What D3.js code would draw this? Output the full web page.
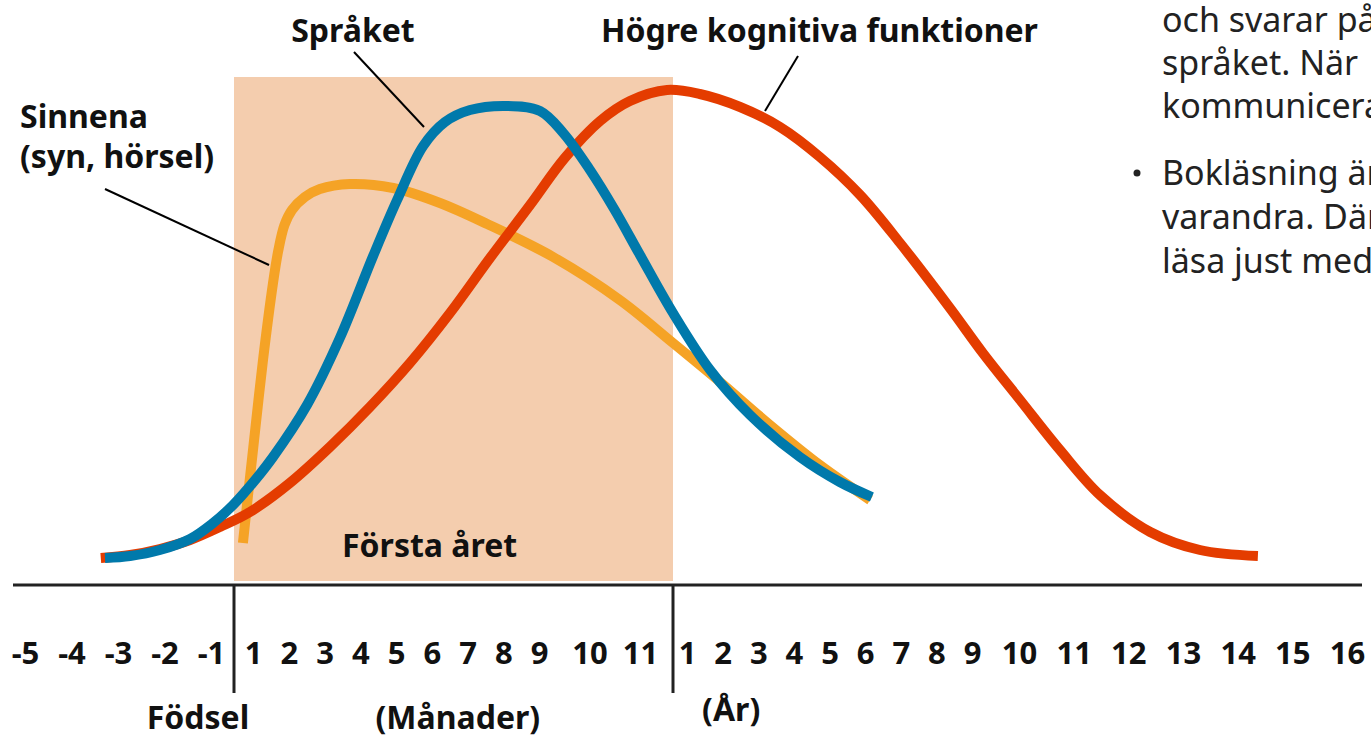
<!DOCTYPE html>
<html>
<head>
<meta charset="utf-8">
<script src="https://cdn.jsdelivr.net/npm/d3@7"></script>
<style>
  html, body { margin: 0; padding: 0; background: #fff; overflow: hidden; }
  svg { display: block; font-family: "Noto Sans", "Open Sans", sans-serif; }
</style>
</head>
<body>
<svg id="chart" width="1371" height="736"></svg>
<script>
// ---------- DATA ----------
// Timeline position t: prenatal months -5..-1, birth = 0, months 1..11, one year = 12, then years 1..16 at t = 12 + year
const prenatalTicks = [-5, -4, -3, -2, -1];
const monthTicks = [1, 2, 3, 4, 5, 6, 7, 8, 9, 10, 11];
const yearTicks = [1, 2, 3, 4, 5, 6, 7, 8, 9, 10, 11, 12, 13, 14, 15, 16];
const yearOffset = 12;
const birthT = 0;
const firstYearEndT = 12;

// Curve values (t, development level 0–100)
const sinnenaT = [0.47, 0.74, 1.0, 1.28, 1.56, 1.71, 1.88, 2.09, 2.45, 2.87, 3.71, 4.92, 6.23, 7.55, 9.28, 10.60, 12.0, 13.93, 15.33, 16.73, 18.14];
const sinnenaV = [8.4, 18, 27, 45, 60.4, 67, 72, 75, 77.6, 79.2, 80.2, 79.4, 76.4, 72.2, 65.6, 57, 48.4, 40.6, 32, 24, 17];

const sprakT = [-3.28, -2.74, -2.10, -1.45, -0.96, -0.04, 1.06, 1.56, 2.51, 3.43, 4.36, 5.03, 5.76, 6.37, 7.07, 8.10, 9.02, 9.48, 10.01, 10.50, 11.0, 12.0, 13.65, 14.77, 16.17, 17.29, 18.19];
const sprakV = [5.4, 5.8, 7, 9.2, 12.2, 16, 21, 25.6, 36, 49.4, 65.8, 77, 87.8, 92.6, 95, 95.8, 94.8, 90.4, 83, 75, 66, 54.4, 43, 34, 25.6, 20.6, 17.6];

const hogreT = [-3.37, -2.74, -2.10, -1.45, -0.61, 0.84, 2.03, 3.15, 4.27, 5.39, 6.51, 7.63, 8.75, 9.51, 10.21, 10.80, 11.82, 13.36, 14.49, 15.61, 16.73, 17.86, 18.98, 20.38, 21.23, 22.02, 22.75, 23.48, 24.40, 25.31, 26.37];
const hogreV = [5.4, 6, 7.2, 9, 11.6, 14.6, 20.4, 27.6, 35.6, 44.4, 54.4, 65.4, 76, 85.4, 92.8, 96.8, 99, 98.2, 95.6, 91.6, 85.6, 78, 68.4, 55.4, 46.4, 37, 27, 18, 10.6, 7, 5.8];

const seriesNames = ["Sinnena", "Språket", "Högre kognitiva funktioner"];
const seriesColors = ["#F5A326", "#0079AB", "#E43C00"];

const bodyLines = ["och svarar på", "språket. När", "kommunicerar", "Bokläsning är", "varandra. Där", "läsa just med"];

// ---------- LAYOUT ----------
const svg = d3.select("#chart");
const x = d3.scaleLinear()
  .domain([-5, -1, 0, 1, 9, 11, 12, 13, 21, 22, 28])
  .range([25, 211, 234, 253, 539, 640, 673, 687, 972, 1019, 1347]);
const y = d3.scaleLinear().domain([0, 100]).range([585, 85]);
const axisY = y(0);

// Shaded first year
svg.append("rect")
  .attr("x", x(birthT)).attr("y", 77)
  .attr("width", x(firstYearEndT) - x(birthT))
  .attr("height", axisY - 4 - 77)
  .attr("fill", "#F4CDAE");

svg.append("text")
  .attr("x", x(5.94)).attr("y", 557)
  .attr("text-anchor", "middle")
  .attr("font-size", 32).attr("font-weight", 700).attr("fill", "#111")
  .text("Första året");

// Axis line
svg.append("line")
  .attr("x1", 13).attr("x2", 1362).attr("y1", axisY).attr("y2", axisY)
  .attr("stroke", "#222").attr("stroke-width", 3);

// Dividers
[birthT, firstYearEndT].forEach(t => {
  svg.append("line")
    .attr("x1", x(t)).attr("x2", x(t)).attr("y1", axisY - 1).attr("y2", 693)
    .attr("stroke", "#222").attr("stroke-width", 3);
});

// Tick labels via d3 axis
const tickVals = [...prenatalTicks, ...monthTicks, ...yearTicks.map(v => v + yearOffset)];
const axis = d3.axisBottom(x)
  .tickValues(tickVals)
  .tickFormat(t => t > firstYearEndT ? String(t - yearOffset) : String(t))
  .tickSize(0)
  .tickPadding(0);
const gAxis = svg.append("g").attr("transform", `translate(0,${axisY})`).call(axis);
gAxis.select(".domain").remove();
gAxis.selectAll("text")
  .attr("y", 79).attr("dy", null)
  .attr("font-family", "'Noto Sans', sans-serif")
  .attr("font-size", 31).attr("font-weight", 700).attr("fill", "#111");

// Axis captions
const captions = [
  { text: "Födsel", t: -1.28, yy: 729 },
  { text: "(Månader)", t: 6.73, yy: 729 },
  { text: "(År)", t: 14.24, yy: 721 }
];
svg.selectAll("text.caption").data(captions).join("text")
  .attr("class", "caption")
  .attr("x", d => x(d.t)).attr("y", d => d.yy)
  .attr("text-anchor", "middle")
  .attr("font-size", 32).attr("font-weight", 700).attr("fill", "#111")
  .text(d => d.text);

// Curves
const line = d3.line()
  .x(d => x(d[0])).y(d => y(d[1]))
  .curve(d3.curveCatmullRom.alpha(0.5));
const series = [
  { name: seriesNames[0], color: seriesColors[0], pts: d3.zip(sinnenaT, sinnenaV) },
  { name: seriesNames[2], color: seriesColors[2], pts: d3.zip(hogreT, hogreV) },
  { name: seriesNames[1], color: seriesColors[1], pts: d3.zip(sprakT, sprakV) }
];
svg.selectAll("path.curve").data(series).join("path")
  .attr("class", "curve")
  .attr("d", d => line(d.pts))
  .attr("fill", "none")
  .attr("stroke", d => d.color)
  .attr("stroke-width", 10)
  .attr("stroke-linecap", "butt")
  .attr("stroke-linejoin", "round");

// Annotations
const labelStyle = sel => sel.attr("font-size", 32).attr("font-weight", 700).attr("fill", "#111");
svg.append("text").attr("x", 20).attr("y", 128).call(labelStyle).text("Sinnena");
svg.append("text").attr("x", 20).attr("y", 168).call(labelStyle).text("(syn, hörsel)");
svg.append("text").attr("x", 353).attr("y", 42).attr("text-anchor", "middle").call(labelStyle).text("Språket");
svg.append("text").attr("x", 601).attr("y", 42).call(labelStyle).text("Högre kognitiva funktioner");

const leaders = [
  [105, 189, 269, 265],
  [354, 52, 424, 127],
  [798, 56, 765, 111]
];
svg.selectAll("line.leader").data(leaders).join("line")
  .attr("class", "leader")
  .attr("x1", d => d[0]).attr("y1", d => d[1]).attr("x2", d => d[2]).attr("y2", d => d[3])
  .attr("stroke", "#000").attr("stroke-width", 2);

// Clipped body text on the right
const bodyY = [32, 75, 118, 185, 229, 273];
svg.selectAll("text.body").data(bodyLines).join("text")
  .attr("class", "body")
  .attr("x", 1162).attr("y", (d, i) => bodyY[i])
  .attr("font-size", 34).attr("fill", "#222")
  .text(d => d);
svg.append("circle").attr("cx", 1137).attr("cy", 173).attr("r", 3.5).attr("fill", "#222");
</script>
</body>
</html>
